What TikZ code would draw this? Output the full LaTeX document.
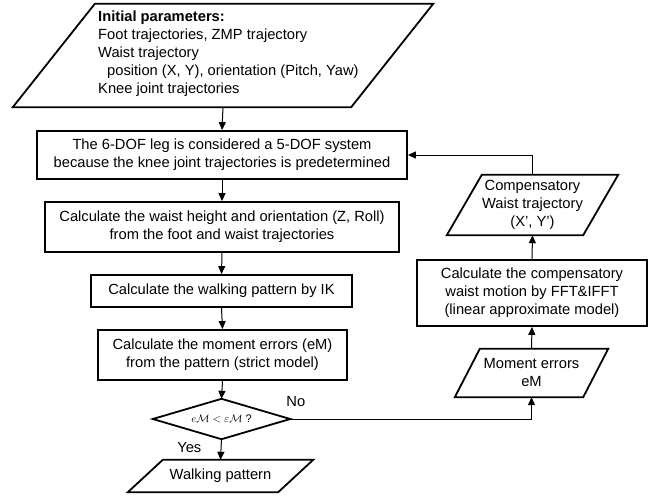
\documentclass[tikz,border=0pt]{standalone}
\usepackage{fontspec}
\setmainfont{Liberation Sans}
\usetikzlibrary{arrows.meta}
\begin{document}
\begin{tikzpicture}[x=1pt,y=-1pt,
  font=\fontsize{14.7}{18}\selectfont,
  stepbox/.style={draw, line width=1.8pt, inner sep=0pt, align=center},
  shapebox/.style={draw=none, inner sep=0pt, align=center},
  conn/.style={line width=1pt, -{Triangle[length=8pt,width=7pt]}}]
\useasboundingbox (0,0) rectangle (662,499);
% initial parameters
\node[shapebox, minimum width=420pt, minimum height=103pt] (init) at (223,55.5) {};
\draw[line width=1.8pt] ([xshift=82pt]init.north west) -- (init.north east) -- ([xshift=-82pt]init.south east) -- (init.south west) -- cycle;
\node[anchor=west, align=left, inner sep=0pt] (inittext) at (98,54) {\textbf{Initial parameters:}\\Foot trajectories, ZMP trajectory\\Waist trajectory\\\hspace*{9pt}position (X, Y), orientation (Pitch, Yaw)\\Knee joint trajectories};
% main column
\node[stepbox, minimum width=370pt, minimum height=48pt] (box1) at (222,155) {The 6-DOF leg is considered a 5-DOF system\\because the knee joint trajectories is predetermined};
\node[stepbox, minimum width=354pt, minimum height=50pt] (box2) at (222,227) {Calculate the waist height and orientation (Z, Roll)\\from the foot and waist trajectories};
\node[stepbox, minimum width=261pt, minimum height=32pt] (ik) at (221.5,291) {Calculate the walking pattern by IK};
\node[stepbox, minimum width=249pt, minimum height=50pt] (moment) at (222.5,355) {Calculate the moment errors (eM)\\from the pattern (strict model)};
\node[shapebox, minimum width=137pt, minimum height=40pt, font=\fontsize{11}{13}\selectfont] (dia) at (221.5,419) {$e\mathcal{M} < \varepsilon\mathcal{M}$ ?};
\draw[line width=1.8pt] (dia.west) -- (dia.north) -- (dia.east) -- (dia.south) -- cycle;
\node[shapebox, minimum width=185pt, minimum height=32pt] (walk) at (220.5,476) {Walking pattern};
\draw[line width=1.8pt] ([xshift=35pt]walk.north west) -- (walk.north east) -- ([xshift=-35pt]walk.south east) -- (walk.south west) -- cycle;
% right column
\node[shapebox, minimum width=171pt, minimum height=60pt] (comp) at (532.5,205) {Compensatory\\Waist trajectory\\(X', Y')};
\draw[line width=1.8pt] ([xshift=35pt]comp.north west) -- (comp.north east) -- ([xshift=-35pt]comp.south east) -- (comp.south west) -- cycle;
\node[stepbox, minimum width=230pt, minimum height=66pt] (fft) at (532,293) {Calculate the compensatory\\waist motion by FFT\&IFFT\\(linear approximate model)};
\node[shapebox, minimum width=153pt, minimum height=48pt] (merr) at (531.5,373) {Moment errors\\eM};
\draw[line width=1.8pt] ([xshift=25pt]merr.north west) -- (merr.north east) -- ([xshift=-25pt]merr.south east) -- (merr.south west) -- cycle;
% connectors
\draw[conn] (init.south) -- (box1.north);
\draw[conn] (box1.south) -- (box2.north);
\draw[conn] (box2.south) -- (ik.north);
\draw[conn] (ik.south) -- (moment.north);
\draw[conn] (moment.south) -- (dia.north);
\draw[conn] (dia.south) -- (walk.north);
\node[anchor=east, inner sep=0pt] (yes) at ([xshift=-20pt,yshift=-8pt]dia.south) {Yes};
\draw[conn] (dia.east) -| (merr.south);
\node[anchor=south west, inner sep=0pt] (no) at ([xshift=-4pt,yshift=12pt]dia.east) {No};
\draw[conn] (merr.north) -- (fft.south);
\draw[conn] (fft.north) -- (comp.south);
\draw[conn] (comp.north) |- (box1.east);
\end{tikzpicture}
\end{document}
